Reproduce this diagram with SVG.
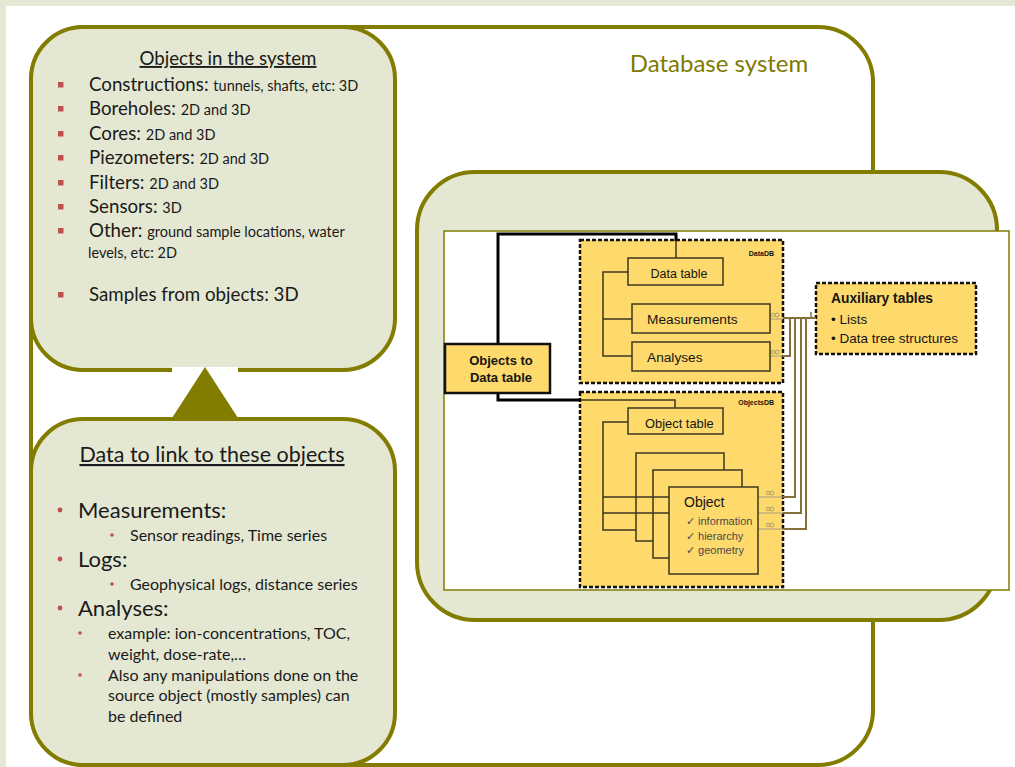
<svg xmlns="http://www.w3.org/2000/svg" width="1015" height="767" viewBox="0 0 1015 767">
<style>
.ol{fill:none;stroke:#827c00;stroke-width:4}
.box{fill:#e4e8d3;stroke:#827c00;stroke-width:4}
.t{font-family:Lato,"Open Sans",sans-serif;fill:#1a1a1a}
.sq{fill:#c0504d}
.tb{fill:#fed96b;stroke:#3d3820;stroke-width:1.5}
.dash{fill:#fed96b;stroke:#111;stroke-width:2.5;stroke-dasharray:4 2}
.a{font-family:"Liberation Sans",Arial,sans-serif;fill:#151515}
.br{fill:none;stroke:#85703a;stroke-width:2}
.thin{fill:none;stroke:#3d3820;stroke-width:1.5}
.blk{fill:none;stroke:#000;stroke-width:3}
.gl{fill:none;stroke:#a89f80;stroke-width:1}
.mk{fill:none;stroke:#9a9170;stroke-width:0.8}
.ck{fill:#4a4a4a}
</style>
<rect width="1015" height="767" fill="#e5e8d4"/>
<rect x="6" y="6" width="1009" height="761" fill="#fff"/>

<g id="database-system">
<rect x="31" y="27" width="842" height="738" rx="55" class="ol"/>
<text x="719" y="72" text-anchor="middle" class="t" style="fill:#7f7a00;font-size:24px">Database system</text>
</g>

<g id="db-panel">
<rect x="417" y="172" width="580" height="448" rx="58" class="box"/>
<rect x="444" y="231" width="565" height="359" fill="#fff" stroke="#827c00" stroke-width="1.5"/>
</g>

<g id="objects-box">
<rect x="31" y="27" width="364" height="343" rx="52" class="box"/>
<text x="228" y="65" text-anchor="middle" class="t" font-size="18.7" text-decoration="underline">Objects in the system</text>
<rect x="58" y="82" width="5.5" height="5.5" class="sq"/>
<rect x="58" y="106" width="5.5" height="5.5" class="sq"/>
<rect x="58" y="131" width="5.5" height="5.5" class="sq"/>
<rect x="58" y="155" width="5.5" height="5.5" class="sq"/>
<rect x="58" y="180" width="5.5" height="5.5" class="sq"/>
<rect x="58" y="204" width="5.5" height="5.5" class="sq"/>
<rect x="58" y="228" width="5.5" height="5.5" class="sq"/>
<rect x="58" y="292" width="5.5" height="5.5" class="sq"/>
<text x="89" y="91" class="t" font-size="18.7">Constructions: <tspan font-size="14.5">tunnels, shafts, etc: 3D</tspan></text>
<text x="89" y="115" class="t" font-size="18.7">Boreholes: <tspan font-size="14.5">2D and 3D</tspan></text>
<text x="89" y="140" class="t" font-size="18.7">Cores: <tspan font-size="14.5">2D and 3D</tspan></text>
<text x="89" y="164" class="t" font-size="18.7">Piezometers: <tspan font-size="14.5">2D and 3D</tspan></text>
<text x="89" y="189" class="t" font-size="18.7">Filters: <tspan font-size="14.5">2D and 3D</tspan></text>
<text x="89" y="213" class="t" font-size="18.7">Sensors: <tspan font-size="14.5">3D</tspan></text>
<text x="89" y="237" class="t" font-size="18.7">Other: <tspan font-size="14.5">ground sample locations, water</tspan></text>
<text x="88" y="258" class="t" font-size="14.5">levels, etc:  2D</text>
<text x="89" y="301" class="t" font-size="18.7">Samples from objects: 3D</text>
</g>

<g id="link-arrow">
<rect x="172" y="367" width="66" height="50" fill="#fff"/>
<polygon points="205,367 172,418 238,418" fill="#827c00"/>
</g>

<g id="data-link-box">
<rect x="31" y="419" width="364" height="346" rx="52" class="box"/>
<text x="212" y="462" text-anchor="middle" class="t" font-size="21.5" text-decoration="underline">Data to link to these objects</text>
<circle cx="60" cy="510" r="2.4" class="sq"/>
<circle cx="112" cy="535" r="1.8" class="sq"/>
<circle cx="60" cy="559" r="2.4" class="sq"/>
<circle cx="112" cy="584" r="1.8" class="sq"/>
<circle cx="60" cy="608" r="2.4" class="sq"/>
<circle cx="80" cy="633" r="1.8" class="sq"/>
<circle cx="80" cy="675" r="1.8" class="sq"/>
<text x="78" y="518" class="t" font-size="22">Measurements:</text>
<text x="130" y="541" class="t" font-size="16">Sensor readings, Time series</text>
<text x="78" y="567" class="t" font-size="22">Logs:</text>
<text x="130" y="590" class="t" font-size="16">Geophysical logs, distance series</text>
<text x="78" y="616" class="t" font-size="22">Analyses:</text>
<text x="108" y="639" class="t" font-size="16">example: ion-concentrations, TOC,</text>
<text x="108" y="660" class="t" font-size="16">weight, dose-rate,…</text>
<text x="108" y="681" class="t" font-size="16">Also any manipulations done on the</text>
<text x="108" y="701" class="t" font-size="16">source object (mostly samples) can</text>
<text x="108" y="722" class="t" font-size="16">be defined</text>
</g>

<g id="datadb">
<rect x="580" y="240" width="203" height="143" class="dash"/>
<text x="774" y="256" text-anchor="end" class="a" font-size="7" font-weight="bold">DataDB</text>
</g>
<g id="objectsdb">
<rect x="580" y="392" width="203" height="195" class="dash"/>
<text x="774" y="405" text-anchor="end" class="a" font-size="7" font-weight="bold">ObjectsDB</text>
</g>
<g id="auxiliary-tables">
<rect x="816" y="283" width="160" height="71" class="dash"/>
<text x="831" y="303" class="a" font-size="13.8" font-weight="bold">Auxiliary tables</text>
<text x="831" y="324" class="a" font-size="13.5">• Lists</text>
<text x="831" y="343" class="a" font-size="13.5">• Data tree structures</text>
</g>

<g id="connectors">
<path d="M498,344 V234 H676 V241" class="blk"/>
<path d="M498,393 V400 H581" class="blk"/>
<path d="M676,241 V258" class="thin"/>
<path d="M581,400 H675 V408" class="thin"/>
<path d="M628,272 H603 V356 H632 M603,319 H632" class="thin"/>
<path d="M628,422 H603 V530 H636 M603,497 H636 M603,513 H636" class="thin"/>
<path d="M770,319 H783 M770,356 H783 M758,497 H783 M758,513 H783 M758,529 H783" class="gl"/>
<path d="M783,318 H816 M783,356 H790 V318 M783,497 H795 V318 M783,513 H801 V318 M783,529 H806 V318" class="br"/>
<path d="M811,312 V318" stroke="#85703a" stroke-width="1.5"/>
<g class="mk">
<circle cx="773" cy="315" r="1.8"/><circle cx="777" cy="315" r="2"/>
<circle cx="773" cy="352" r="1.8"/><circle cx="777" cy="352" r="2"/>
<circle cx="768" cy="493" r="1.8"/><circle cx="772" cy="493" r="2"/>
<circle cx="768" cy="509" r="1.8"/><circle cx="772" cy="509" r="2"/>
<circle cx="768" cy="525" r="1.8"/><circle cx="772" cy="525" r="2"/>
</g>
</g>

<g id="objects-to-data-table">
<rect x="445" y="344" width="105" height="49" fill="#fed96b" stroke="#111" stroke-width="2.5"/>
<text x="501" y="365" text-anchor="middle" class="a" font-size="13" font-weight="bold">Objects to</text>
<text x="501" y="382" text-anchor="middle" class="a" font-size="13" font-weight="bold">Data table</text>
</g>
<g id="data-table">
<rect x="628" y="258" width="95" height="27" class="tb"/>
<text x="679" y="278" text-anchor="middle" class="a" font-size="12.5">Data table</text>
</g>
<g id="measurements">
<rect x="632" y="304" width="138" height="29" class="tb"/>
<text x="647" y="324" class="a" font-size="13.7">Measurements</text>
</g>
<g id="analyses">
<rect x="632" y="342" width="138" height="29" class="tb"/>
<text x="647" y="362" class="a" font-size="13.7">Analyses</text>
</g>
<g id="object-table">
<rect x="628" y="408" width="95" height="26" class="tb"/>
<text x="645" y="428" class="a" font-size="12.9">Object table</text>
</g>
<g id="object-stack">
<rect x="636" y="453" width="88" height="88" class="tb"/>
<path d="M636,497 H653 M636,513 H653" class="thin"/>
<rect x="653" y="470" width="89" height="88" class="tb"/>
<path d="M653,497 H669 M653,513 H669" class="thin"/>
</g>
<g id="object">
<rect x="669" y="487" width="89" height="87" class="tb"/>
<text x="684" y="507" class="a" font-size="14">Object</text>
<text x="686" y="525" class="a ck" font-size="11">✓ information</text>
<text x="686" y="540" class="a ck" font-size="11">✓ hierarchy</text>
<text x="686" y="554" class="a ck" font-size="11">✓ geometry</text>
</g>
</svg>
